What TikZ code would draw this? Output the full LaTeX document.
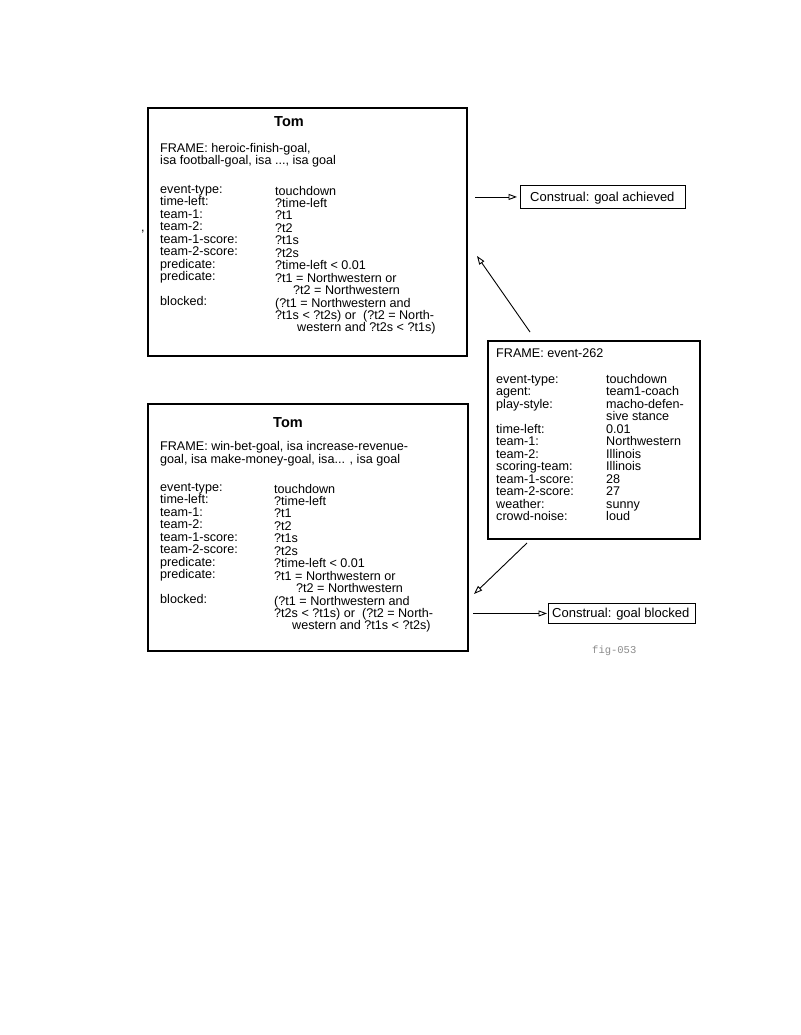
\documentclass[tikz,border=0pt]{standalone}
\usepackage{fontspec}
\setmainfont{Liberation Sans}
\newfontfamily\figfont{Liberation Mono}
\usetikzlibrary{arrows.meta}
\newcommand\tline[4]{\node[txt] (#1) at (#2,#3) {#4};}
\begin{document}
\begin{tikzpicture}[x=1pt,y=-1pt,
  txt/.style={anchor=base west,inner sep=0pt,font=\fontsize{12.6}{12.45}\selectfont},
  ttl/.style={anchor=base,inner sep=0pt,font=\fontsize{14.5}{15}\selectfont\bfseries},
  bigbox/.style={draw,line width=2.3pt,anchor=north west,inner sep=0pt},
  smallbox/.style={draw,line width=0.9pt,anchor=north west,inner sep=0pt},
  arr/.style={line width=0.9pt,-{Triangle[open,length=8.5pt,width=6pt]}}]
\useasboundingbox[fill=white] (0,0) rectangle (800,1035);

% ---------- top box ----------
\node[bigbox,minimum width=319pt,minimum height=248pt] (tom1) at (147,107) {};
\node[ttl] (tom1t) at (289,127) {Tom};
\tline{f1a}{160}{152.5}{FRAME: heroic-finish-goal,}
\tline{f1b}{160}{164.5}{isa football-goal, isa ..., isa goal}
\tline{k10}{160}{193.5+0*12.45}{event-type:}
\tline{k11}{160}{193.5+1*12.45}{time-left:}
\tline{k12}{160}{193.5+2*12.45}{team-1:}
\tline{k13}{160}{193.5+3*12.45}{team-2:}
\tline{k14}{160}{193.5+4*12.45}{team-1-score:}
\tline{k15}{160}{193.5+5*12.45}{team-2-score:}
\tline{k16}{160}{193.5+6*12.45}{predicate:}
\tline{k17}{160}{193.5+7*12.45}{predicate:}
\tline{k19}{160}{193.5+9*12.45}{blocked:}
\tline{v10}{275}{195+0*12.45}{touchdown}
\tline{v11}{275}{195+1*12.45}{?time-left}
\tline{v12}{275}{195+2*12.45}{?t1}
\tline{v13}{275}{195+3*12.45}{?t2}
\tline{v14}{275}{195+4*12.45}{?t1s}
\tline{v15}{275}{195+5*12.45}{?t2s}
\tline{v16}{275}{195+6*12.45}{?time-left < 0.01}
\tline{v17}{275}{195+7*12.45}{?t1 = Northwestern or}
\tline{v18}{293}{195+8*12.45}{?t2 = Northwestern}
\tline{v19}{275}{195+9*12.45}{(?t1 = Northwestern and}
\tline{v1a}{275}{195+10*12.45}{?t1s < ?t2s) or\ \ (?t2 = North-}
\tline{v1b}{297}{195+11*12.45}{western and ?t2s < ?t1s)}
\node[txt] (comma) at (141,231) {,};

% ---------- bottom box ----------
\node[bigbox,minimum width=320pt,minimum height=247pt] (tom2) at (147,403) {};
\node[ttl] (tom2t) at (288,427) {Tom};
\tline{f2a}{160}{450.5}{FRAME: win-bet-goal, isa increase-revenue-}
\tline{f2b}{160}{463}{goal, isa make-money-goal, isa... , isa goal}
\tline{k20}{160}{491.5+0*12.45}{event-type:}
\tline{k21}{160}{491.5+1*12.45}{time-left:}
\tline{k22}{160}{491.5+2*12.45}{team-1:}
\tline{k23}{160}{491.5+3*12.45}{team-2:}
\tline{k24}{160}{491.5+4*12.45}{team-1-score:}
\tline{k25}{160}{491.5+5*12.45}{team-2-score:}
\tline{k26}{160}{491.5+6*12.45}{predicate:}
\tline{k27}{160}{491.5+7*12.45}{predicate:}
\tline{k29}{160}{491.5+9*12.45}{blocked:}
\tline{v20}{274}{493+0*12.45}{touchdown}
\tline{v21}{274}{493+1*12.45}{?time-left}
\tline{v22}{274}{493+2*12.45}{?t1}
\tline{v23}{274}{493+3*12.45}{?t2}
\tline{v24}{274}{493+4*12.45}{?t1s}
\tline{v25}{274}{493+5*12.45}{?t2s}
\tline{v26}{274}{493+6*12.45}{?time-left < 0.01}
\tline{v27}{274}{493+7*12.45}{?t1 = Northwestern or}
\tline{v28}{296}{493+8*12.45}{?t2 = Northwestern}
\tline{v29}{274}{493+9*12.45}{(?t1 = Northwestern and}
\tline{v2a}{274}{493+10*12.45}{?t2s < ?t1s) or\ \ (?t2 = North-}
\tline{v2b}{292}{493+11*12.45}{western and ?t1s < ?t2s)}

% ---------- event box ----------
\node[bigbox,minimum width=212pt,minimum height=198pt] (ev) at (487,340) {};
\tline{fe}{496}{357.5}{FRAME: event-262}
\tline{ke0}{496}{383.5+0*12.45}{event-type:}
\tline{ke1}{496}{383.5+1*12.45}{agent:}
\tline{ke2}{496}{383.5+2*12.45}{play-style:}
\tline{ke4}{496}{383.5+4*12.45}{time-left:}
\tline{ke5}{496}{383.5+5*12.45}{team-1:}
\tline{ke6}{496}{383.5+6*12.45}{team-2:}
\tline{ke7}{496}{383.5+7*12.45}{scoring-team:}
\tline{ke8}{496}{383.5+8*12.45}{team-1-score:}
\tline{ke9}{496}{383.5+9*12.45}{team-2-score:}
\tline{kea}{496}{383.5+10*12.45}{weather:}
\tline{keb}{496}{383.5+11*12.45}{crowd-noise:}
\tline{ve0}{606}{383.5+0*12.45}{touchdown}
\tline{ve1}{606}{383.5+1*12.45}{team1-coach}
\tline{ve2}{606}{383.5+2*12.45}{macho-defen-}
\tline{ve3}{606}{383.5+3*12.45}{sive stance}
\tline{ve4}{606}{383.5+4*12.45}{0.01}
\tline{ve5}{606}{383.5+5*12.45}{Northwestern}
\tline{ve6}{606}{383.5+6*12.45}{Illinois}
\tline{ve7}{606}{383.5+7*12.45}{Illinois}
\tline{ve8}{606}{383.5+8*12.45}{28}
\tline{ve9}{606}{383.5+9*12.45}{27}
\tline{vea}{606}{383.5+10*12.45}{sunny}
\tline{veb}{606}{383.5+11*12.45}{loud}

% ---------- construal boxes ----------
\node[smallbox,minimum width=165pt,minimum height=23pt] (ach) at (520,185) {};
\node[txt,font=\fontsize{13}{13}\selectfont] (acht) at (530,201) {Construal: goal achieved};
\node[smallbox,minimum width=147pt,minimum height=20pt] (blk) at (548,603) {};
\node[txt,font=\fontsize{13}{13}\selectfont] (blkt) at (552,617.5) {Construal: goal blocked};

\node[anchor=base west,inner sep=0pt,font=\fontsize{10.5}{10}\figfont,text=black!45] (fig) at (592,653) {fig-053};

% ---------- connectors ----------
\coordinate (a2s) at (530,332);
\coordinate (a2e) at (477,256);
\coordinate (a3s) at (527,543);
\coordinate (a3e) at (474,594);
\draw[arr,shorten <=7pt,shorten >=3pt] (tom1.east |- ach.west) -- (ach.west);
\draw[arr] (a2s) -- (a2e);
\draw[arr] (a3s) -- (a3e);
\draw[arr,shorten <=4pt,shorten >=1pt] (tom2.east |- blk.west) -- (blk.west);
\end{tikzpicture}
\end{document}
